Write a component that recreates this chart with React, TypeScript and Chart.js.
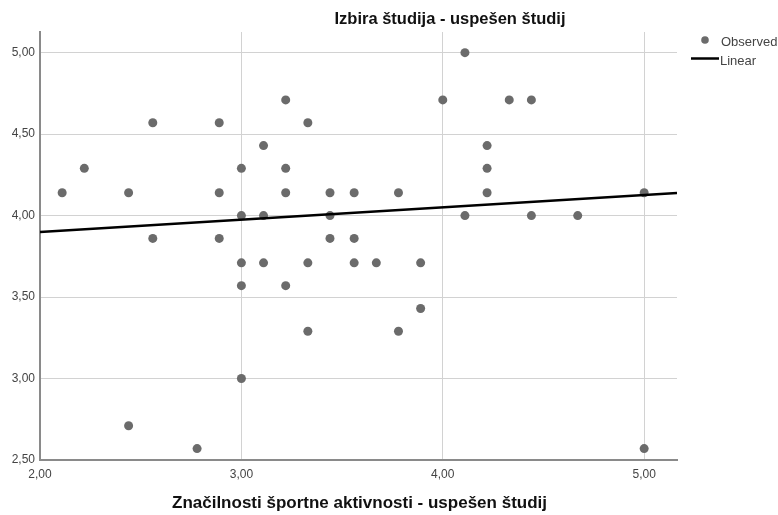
import { useEffect, useRef } from 'react';
import { Chart, registerables } from 'chart.js';
Chart.register(...registerables);

const obsX = [2.11, 2.22, 2.44, 2.44, 2.56, 2.56, 2.78, 2.89, 2.89, 2.89, 3.0, 3.0, 3.0, 3.0, 3.0, 3.11, 3.11, 3.11, 3.22, 3.22, 3.22, 3.22, 3.33, 3.33, 3.33, 3.44, 3.44, 3.44, 3.56, 3.56, 3.56, 3.67, 3.78, 3.78, 3.89, 3.89, 4.0, 4.11, 4.11, 4.22, 4.22, 4.22, 4.33, 4.44, 4.44, 4.67, 5.0, 5.0];
const obsY = [4.14, 4.29, 4.14, 2.71, 4.57, 3.86, 2.57, 4.57, 4.14, 3.86, 4.29, 4.0, 3.71, 3.57, 3.0, 4.43, 4.0, 3.71, 4.71, 4.29, 4.14, 3.57, 4.57, 3.71, 3.29, 4.14, 4.0, 3.86, 4.14, 3.86, 3.71, 3.71, 4.14, 3.29, 3.71, 3.43, 4.71, 5.0, 4.0, 4.43, 4.29, 4.14, 4.71, 4.71, 4.0, 4.0, 4.14, 2.57];
const fitX = [2.0, 5.163];
const fitY = [3.9, 4.139];
const xTicks = [2, 3, 4, 5];
const yTicks = [2.5, 3, 3.5, 4, 4.5, 5];
const chartTitle = 'Izbira študija - uspešen študij';
const xTitle = 'Značilnosti športne aktivnosti - uspešen študij';
const legendLabels = ['Observed', 'Linear'];

const FONT = '"Liberation Sans", Arial, sans-serif';
const fmt = (v: number) => v.toFixed(2).replace('.', ',');

export default function App() {
  const ref = useRef<HTMLCanvasElement | null>(null);
  useEffect(() => {
    if (!ref.current) return;
    const textPlugin = {
      id: 'texts',
      afterDraw(chart: any) {
        const ctx = chart.ctx;
        const ca = chart.chartArea;
        ctx.save();
        ctx.fillStyle = '#111';
        ctx.textBaseline = 'middle';
        ctx.textAlign = 'center';
        ctx.font = `bold 16.5px ${FONT}`;
        ctx.fillText(chartTitle, 450, 19);
        ctx.font = `bold 17px ${FONT}`;
        ctx.fillText(xTitle, (ca.left + ca.right) / 2 + 1, 503);
        // legend
        ctx.fillStyle = '#6b6b6b';
        ctx.beginPath();
        ctx.arc(705, 40, 3.8, 0, Math.PI * 2);
        ctx.fill();
        ctx.strokeStyle = '#000';
        ctx.lineWidth = 2.5;
        ctx.beginPath();
        ctx.moveTo(691, 58.5);
        ctx.lineTo(719, 58.5);
        ctx.stroke();
        ctx.fillStyle = '#444';
        ctx.textAlign = 'left';
        ctx.font = `13px ${FONT}`;
        ctx.fillText(legendLabels[0], 721, 42);
        ctx.fillText(legendLabels[1], 720, 61);
        ctx.restore();
      },
    };
    const chart = new Chart(ref.current, {
      type: 'scatter',
      data: {
        datasets: [
          {
            type: 'line',
            label: legendLabels[1],
            data: fitX.map((x, i) => ({ x, y: fitY[i] })),
            borderColor: '#000',
            borderWidth: 2.5,
            pointRadius: 0,
            fill: false,
            order: 0,
          } as any,
          {
            label: legendLabels[0],
            data: obsX.map((x, i) => ({ x, y: obsY[i] })),
            backgroundColor: '#6b6b6b',
            borderWidth: 0,
            pointRadius: 4.5,
            order: 1,
          },
        ],
      },
      options: {
        responsive: false,
        animation: false,
        layout: { padding: { top: 32, right: 101, left: 0, bottom: 0 } },
        plugins: { legend: { display: false }, title: { display: false }, tooltip: { enabled: false } },
        scales: {
          x: {
            type: 'linear',
            min: 2,
            max: 5.163,
            afterBuildTicks: (s: any) => { s.ticks = xTicks.map((v) => ({ value: v })); },
            afterFit: (s: any) => { s.height = 55; },
            grid: { color: '#d2d2d2', lineWidth: 1, drawTicks: false },
            border: { color: '#8a8a8a', width: 2 },
            ticks: { padding: 7, color: '#444', maxRotation: 0, font: { size: 12, family: FONT }, callback: (v: any) => fmt(Number(v)) },
          },
          y: {
            type: 'linear',
            min: 2.5,
            max: 5.127,
            afterBuildTicks: (s: any) => { s.ticks = yTicks.map((v) => ({ value: v })); },
            afterFit: (s: any) => { s.width = 40; },
            grid: { color: '#d2d2d2', lineWidth: 1, drawTicks: false },
            border: { color: '#8a8a8a', width: 2 },
            ticks: { padding: 5, color: '#444', font: { size: 12, family: FONT }, callback: (v: any) => fmt(Number(v)) },
          },
        },
      },
      plugins: [textPlugin],
    });
    return () => chart.destroy();
  }, []);
  return (
    <div style={{ position: 'fixed', left: 0, top: 0, width: 778, height: 515, background: '#fff' }}>
      <canvas ref={ref} width={778} height={515} />
    </div>
  );
}
